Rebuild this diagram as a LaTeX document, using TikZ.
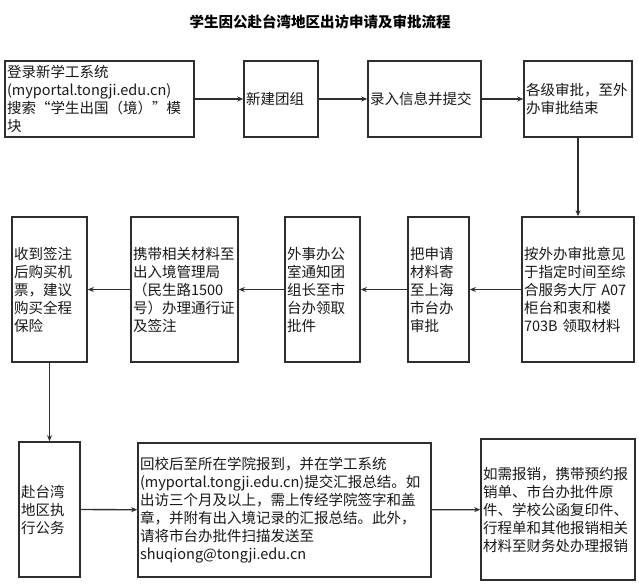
\documentclass[tikz,border=0pt]{standalone}
\usepackage{fontspec}
\setmainfont{Noto Sans CJK SC}
\usetikzlibrary{arrows.meta}
\definecolor{linegray}{HTML}{2E2E2E}
\begin{document}
\begin{tikzpicture}[x=1pt,y=-1pt,
  proc node/.style={draw=linegray, line width=1.6pt, align=left, inner xsep=2pt,
    font=\fontsize{14.5}{18}\selectfont, text=black!90},
  flow/.style={draw=linegray, line width=1.3pt, -{Stealth[length=6pt,width=5pt]}}]
\useasboundingbox[fill=white] (0,0) rectangle (639,586);
\node[font=\fontsize{14.5}{18}\selectfont\bfseries] (title) at (320,22) {学生因公赴台湾地区出访申请及审批流程};
% first row
\node[proc node, text width=185pt, minimum height=76pt] (login) at (99.5,99) {登录新学工系统\\(myportal.tongji.edu.cn)\\搜索“学生出国（境）”模\\块};
\node[proc node, text width=70pt, minimum height=76pt] (group) at (281,99) {新建团组};
\node[proc node, text width=109pt, minimum height=76pt] (submit) at (424.5,99) {录入信息并提交};
\node[proc node, text width=104pt, minimum height=76pt] (approve) at (578,99) {各级审批，至外\\办审批结束};
% second row
\node[proc node, text width=108pt, minimum height=145pt] (fetch) at (578,289.5) {按外办审批意见\\于指定时间至综\\合服务大厅 A07\\柜台和衷和楼\\703B 领取材料};
\node[proc node, text width=57pt, minimum height=145pt] (mail) at (438.5,289.5) {把申请\\材料寄\\至上海\\市台办\\审批};
\node[proc node, text width=71pt, minimum height=145pt] (notice) at (322.5,289.5) {外事办公\\室通知团\\组长至市\\台办领取\\批件};
\node[proc node, text width=103pt, minimum height=145pt] (permit) at (184.5,289.5) {携带相关材料至\\出入境管理局\\（民生路1500\\号）办理通行证\\及签注};
\node[proc node, text width=71pt, minimum height=145pt] (ticket) at (49.5,289.5) {收到签注\\后购买机\\票，建议\\购买全程\\保险};
% third row
\node[proc node, text width=57pt, minimum height=135pt] (visit) at (49.5,509.5) {赴台湾\\地区执\\行公务};
\node[proc node, text width=289pt, minimum height=134pt] (report) at (284.5,510) {回校后至所在学院报到，并在学工系统\\(myportal.tongji.edu.cn)提交汇报总结。如\\出访三个月及以上，需上传经学院签字和盖\\章，并附有出入境记录的汇报总结。此外，\\请将市台办批件扫描发送至\\shuqiong@tongji.edu.cn};
\node[proc node, text width=150pt, minimum height=141pt] (refund) at (558,509.5) {如需报销，携带预约报\\销单、市台办批件原\\件、学校公函复印件、\\行程单和其他报销相关\\材料至财务处办理报销};
\draw[flow] (login) edge (group);
\draw[flow] (group) edge (submit);
\draw[flow] (submit) edge (approve);
\draw[flow] (approve) edge (fetch);
\draw[flow] (fetch) edge (mail);
\draw[flow] (mail) edge (notice);
\draw[flow] (notice) edge (permit);
\draw[flow] (permit) edge (ticket);
\draw[flow] (ticket) edge (visit);
\draw[flow] (visit) edge (report);
\draw[flow] (report) edge (refund);
\end{tikzpicture}
\end{document}
